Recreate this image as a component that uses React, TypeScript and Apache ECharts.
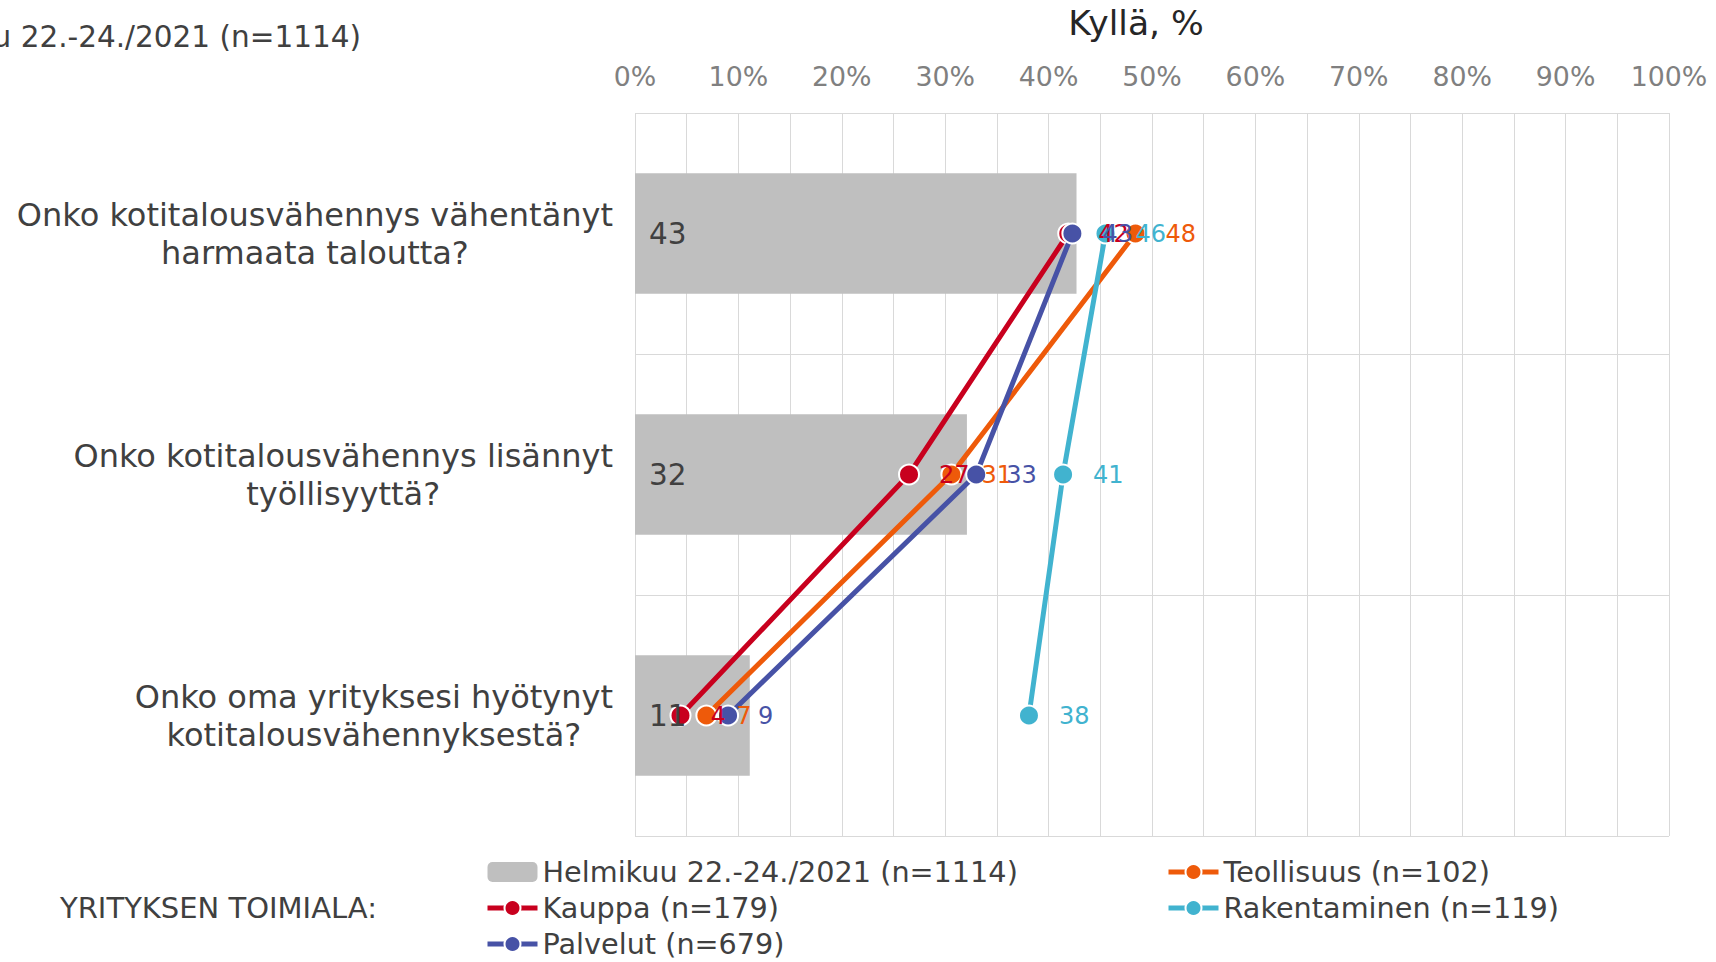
import React, { useEffect, useRef } from "react";
import * as echarts from "echarts";

const questions = [
  "Onko kotitalousvähennys vähentänyt\nharmaata taloutta?",
  "Onko kotitalousvähennys lisännyt\ntyöllisyyttä?",
  "Onko oma yrityksesi hyötynyt\nkotitalousvähennyksestä?",
];
const totalName = "Helmikuu 22.-24./2021 (n=1114)";
const totalValues = [42.7, 32.1, 11.1];
const totalLabels = [43, 32, 11];

const lineNames = ["Teollisuus (n=102)", "Kauppa (n=179)", "Rakentaminen (n=119)", "Palvelut (n=679)"];
const teollisuus = [48.4, 30.6, 6.9];
const teollisuusLabels = [48, 31, 7];
const kauppa = [41.9, 26.5, 4.4];
const kauppaLabels = [42, 27, 4];
const rakentaminen = [45.5, 41.4, 38.1];
const rakentaminenLabels = [46, 41, 38];
const palvelut = [42.3, 33.0, 9.0];
const palvelutLabels = [43, 33, 9];
const lineValues = [teollisuus, kauppa, rakentaminen, palvelut];
const lineLabels = [teollisuusLabels, kauppaLabels, rakentaminenLabels, palvelutLabels];
const lineColors = ["#EE5A0A", "#C8001E", "#41B3CF", "#4752A6"];

const xTicks = [0, 10, 20, 30, 40, 50, 60, 70, 80, 90, 100];

const FONT = '"DejaVu Sans", Verdana, sans-serif';

export default function App() {
  const ref = useRef<HTMLDivElement>(null);
  useEffect(() => {
    document.body.style.margin = "0";
    const chart = echarts.init(ref.current!, undefined, { renderer: "svg" });
    const lineSeries = lineNames.map((name, i) => ({
      name,
      type: "line",
      data: lineValues[i].map((v, j) => [v, questions[j]]),
      color: lineColors[i],
      lineStyle: { width: 5, color: lineColors[i] },
      symbol: "circle",
      symbolSize: 20,
      itemStyle: { color: lineColors[i], borderColor: "#ffffff", borderWidth: 2 },
      label: { show: false },
      z: 3 + i,
    }));
    // label-only overlays so that value labels sit above all markers, as in the reference
    const lineLabelSeries = lineNames.map((name, i) => ({
      name: name + " label",
      type: "scatter",
      data: lineValues[i].map((v, j) => [v, questions[j], lineLabels[i][j]]),
      symbol: "circle",
      symbolSize: 20,
      itemStyle: { color: "transparent", opacity: 1 },
      silent: true,
      label: {
        show: true,
        position: "right",
        distance: 20,
        color: lineColors[i],
        opacity: 1,
        fontSize: 24,
        fontFamily: FONT,
        formatter: (p: any) => String(p.value[2]),
      },
      z: 20 + i,
    }));
    const barLabelSeries = {
      name: totalName + " label",
      type: "scatter",
      data: totalLabels.map((v, j) => [0, questions[j], v]),
      symbolSize: 0,
      silent: true,
      itemStyle: { color: "transparent", opacity: 1 },
      label: {
        show: true,
        position: "right",
        distance: 14,
        color: "#404040",
        opacity: 1,
        fontSize: 29.5,
        fontFamily: FONT,
        formatter: (p: any) => String(p.value[2]),
      },
      z: 19,
    };
    const legendCommon = {
      top: 857,
      orient: "vertical",
      padding: 0,
      itemGap: 6,
      itemWidth: 50,
      itemHeight: 20,
      lineStyle: { width: 5 },
      textStyle: { fontSize: 28.7, color: "#404040", fontFamily: FONT, lineHeight: 30 },
    };
    chart.setOption({
      animation: false,
      textStyle: { fontFamily: FONT },
      grid: { left: 635, right: 47, top: 113, bottom: 126, containLabel: false },
      xAxis: {
        type: "value",
        position: "top",
        min: 0,
        max: 100,
        interval: 5,
        axisLine: { show: false },
        axisTick: { show: false },
        splitLine: { show: true, lineStyle: { color: "#D9D9D9", width: 1 } },
        axisLabel: {
          color: "#808080",
          fontSize: 26.8,
          fontFamily: FONT,
          margin: 23,
          formatter: (v: number) => (xTicks.indexOf(v) >= 0 ? v + "%" : ""),
        },
      },
      yAxis: {
        type: "category",
        inverse: true,
        data: questions,
        axisLine: { show: false },
        axisTick: { show: false },
        splitLine: { show: true, lineStyle: { color: "#D9D9D9", width: 1 } },
        axisLabel: {
          margin: 22,
          align: "right",
          lineHeight: 38,
          formatter: (v: string) => v.split("\n").map((l) => `{c|${l}}`).join("\n"),
          rich: {
            c: { align: "center", fontSize: 32, color: "#404040", fontFamily: FONT, lineHeight: 38 },
          },
        },
      },
      legend: [
        { ...legendCommon, left: 485, data: [totalName, lineNames[1], lineNames[3]] },
        { ...legendCommon, left: 1166, data: [lineNames[0], lineNames[2]] },
      ],
      graphic: [
        {
          type: "text",
          x: 361,
          y: 37,
          style: {
            text: totalName,
            fontSize: 29.5,
            fontFamily: FONT,
            fill: "#404040",
            align: "right",
            verticalAlign: "middle",
          },
        },
        {
          type: "text",
          x: 1136,
          y: 23,
          style: {
            text: "Kyllä, %",
            fontSize: 34.5,
            fontFamily: FONT,
            fill: "#262626",
            align: "center",
            verticalAlign: "middle",
          },
        },
        {
          type: "text",
          x: 60,
          y: 908,
          style: {
            text: "YRITYKSEN TOIMIALA:",
            fontSize: 29,
            fontFamily: FONT,
            fill: "#404040",
            align: "left",
            verticalAlign: "middle",
          },
        },
      ],
      series: [
        {
          name: totalName,
          type: "bar",
          data: totalValues,
          barWidth: "50%",
          itemStyle: { color: "#BFBFBF" },
          label: { show: false },
          z: 2,
        },
        ...lineSeries,
        barLabelSeries,
        ...lineLabelSeries,
      ],
    });
    return () => chart.dispose();
  }, []);
  return <div ref={ref} style={{ width: 1716, height: 962 }} />;
}
